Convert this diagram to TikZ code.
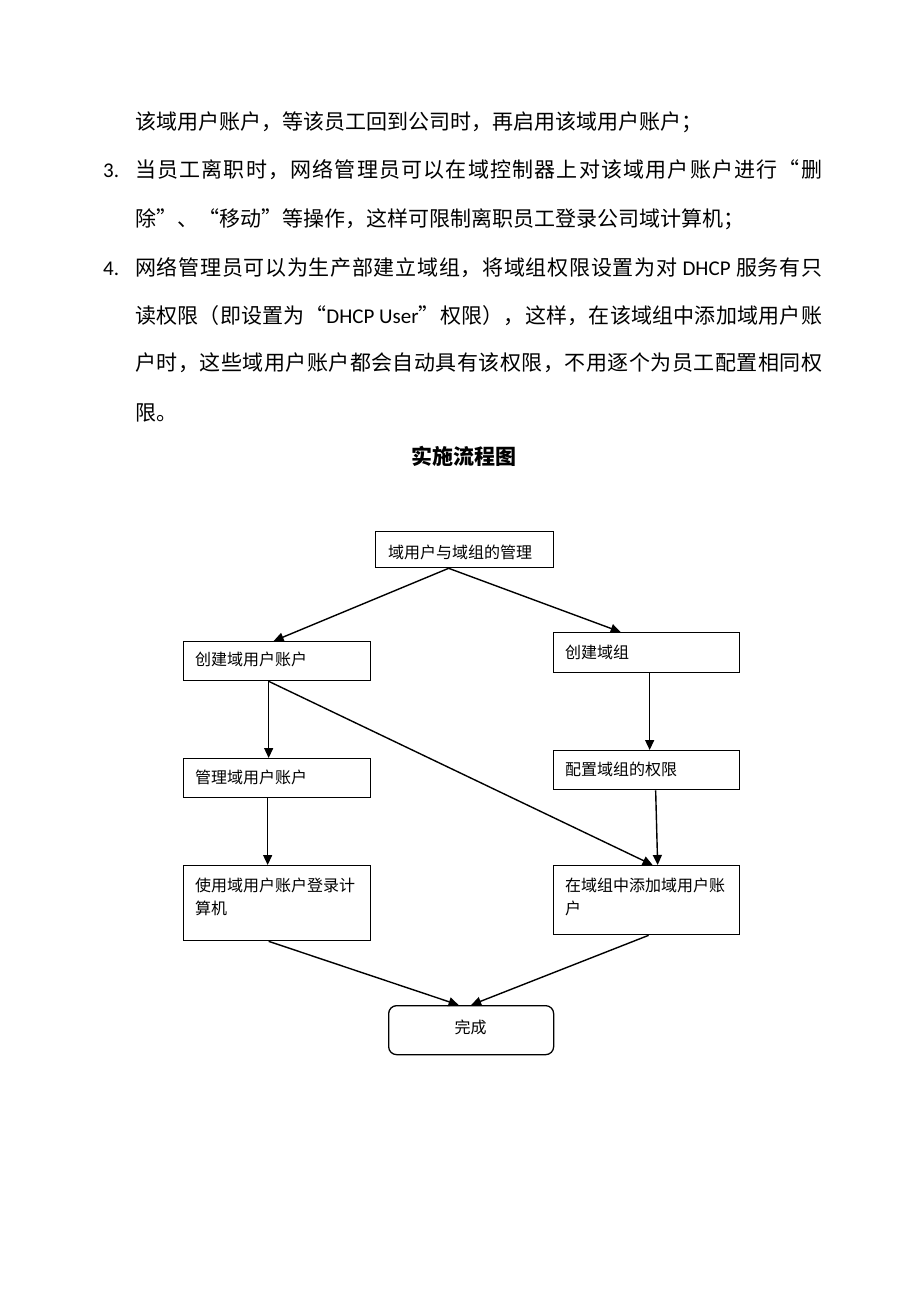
\documentclass[tikz,border=0pt]{standalone}
\usepackage{fontspec}
\setmainfont{Carlito}
\newfontfamily\cjk{Noto Sans CJK SC}
\usetikzlibrary{arrows.meta,calc}
\def\spreadstop{\stopspread}
\def\spreadchars#1{\def\spreadtmp{#1}\ifx\spreadtmp\spreadstop\else\mbox{#1}\hskip 0pt plus 1fil\relax\expandafter\spreadchars\fi}
\newcommand\justline[2]{\hbox to #1{\spreadchars#2\stopspread\unskip}}
\tikzset{
  body/.style={font=\cjk\fontsize{21}{21}\selectfont, inner sep=0pt, anchor=west, text height=17.4pt, text depth=1.5pt},
  numlab/.style={font=\rmfamily\fontsize{21}{21}\selectfont, inner sep=0pt, anchor=west, text height=17.4pt, text depth=1.5pt},
  titlelab/.style={font=\cjk\bfseries\fontsize{21}{21}\selectfont, inner sep=0pt, text height=17.4pt, text depth=1.5pt},
  flowbox/.style={draw, line width=1.3pt, anchor=north west, inner sep=0pt},
  endbox/.style={flowbox, rounded corners=8pt},
  flowtext/.style={font=\cjk\fontsize{16}{23}\selectfont, inner sep=0pt, anchor=west, text height=13.3pt, text depth=1.1pt},
  flowtext2/.style={font=\cjk\fontsize{16}{23}\selectfont, inner sep=0pt, anchor=north west, align=left},
  conn/.style={line width=1.4pt, -{Triangle[length=10pt,width=9pt]}}
}
\begin{document}
\begin{tikzpicture}[x=1pt,y=-1pt]
\fill[white] (0,0) rectangle (920,1302);
\useasboundingbox (0,0) rectangle (920,1302);

% body text
\node[body] (l1) at (135,122) {该域用户账户，等该员工回到公司时，再启用该域用户账户；};
\node[numlab] (n3lab) at (103,170) {3.};
\node[body] (l2) at (135,170) {\justline{687pt}{当员工离职时，网络管理员可以在域控制器上对该域用户账户进行“删}};
\node[body] (l3) at (135,219) {除”、“移动”等操作，这样可限制离职员工登录公司域计算机；};
\node[numlab] (n4lab) at (103,268) {4.};
\node[body] (l4) at (135,268) {\justline{687pt}{网络管理员可以为生产部建立域组，将域组权限设置为对{\rmfamily\ DHCP\ }服务有只}};
\node[body] (l5) at (135,316) {\justline{687pt}{读权限（即设置为“{\rmfamily DHCP User}”权限），这样，在该域组中添加域用户账}};
\node[body] (l6) at (135,363) {\justline{687pt}{户时，这些域用户账户都会自动具有该权限，不用逐个为员工配置相同权}};
\node[body] (l7) at (135,413) {限。};

\node[titlelab] (title) at (464,457) {实施流程图};

% boxes
\node[flowbox, minimum width=178pt, minimum height=36pt] (n1) at (375,531) {};
\node[flowbox, minimum width=187pt, minimum height=39pt] (n2) at (183,641) {};
\node[flowbox, minimum width=186pt, minimum height=40pt] (n3) at (553,632) {};
\node[flowbox, minimum width=187pt, minimum height=39pt] (n4) at (183,758) {};
\node[flowbox, minimum width=186pt, minimum height=39pt] (n5) at (553,750) {};
\node[flowbox, minimum width=187pt, minimum height=75pt] (n6) at (183,865) {};
\node[flowbox, minimum width=186pt, minimum height=69pt] (n7) at (553,865) {};
\node[endbox, minimum width=165pt, minimum height=49pt] (n8) at (388,1005) {};

% box texts
\node[flowtext] (t1) at (388,552) {域用户与域组的管理};
\node[flowtext] (t2) at (195,659) {创建域用户账户};
\node[flowtext] (t3) at (565,652) {创建域组};
\node[flowtext] (t4) at (195,777) {管理域用户账户};
\node[flowtext] (t5) at (565,769) {配置域组的权限};
\node[flowtext2] (t6) at (195,877.5) {使用域用户账户登录计\\算机};
\node[flowtext2] (t7) at (565,877.5) {在域组中添加域用户账\\户};
\node[flowtext, anchor=center] (t8) at (470.5,1027) {完成};

% connectors
\draw[conn] ([xshift=-16pt]n1.south) -- ([xshift=-3.5pt]n2.north);
\draw[conn] ([xshift=-16pt]n1.south) -- ([xshift=-26pt]n3.north);
\draw[conn] ([xshift=-8.5pt]n2.south) -- ([xshift=-8.5pt]n4.north);
\draw[conn] ([xshift=-8.5pt]n2.south) -- ([xshift=6pt]n7.north);
\draw[conn] ([xshift=3pt]n3.south) -- ([xshift=3pt]n5.north);
\draw[conn] ([xshift=9pt]n5.south) -- ([xshift=11pt]n7.north);
\draw[conn] ([xshift=-9.5pt]n4.south) -- ([xshift=-9.5pt]n6.north);
\draw[conn] ([xshift=-8.5pt]n6.south) -- ([xshift=-12.5pt]n8.north);
\draw[conn] ([xshift=2pt]n7.south) -- ([xshift=0pt]n8.north);
\end{tikzpicture}
\end{document}
